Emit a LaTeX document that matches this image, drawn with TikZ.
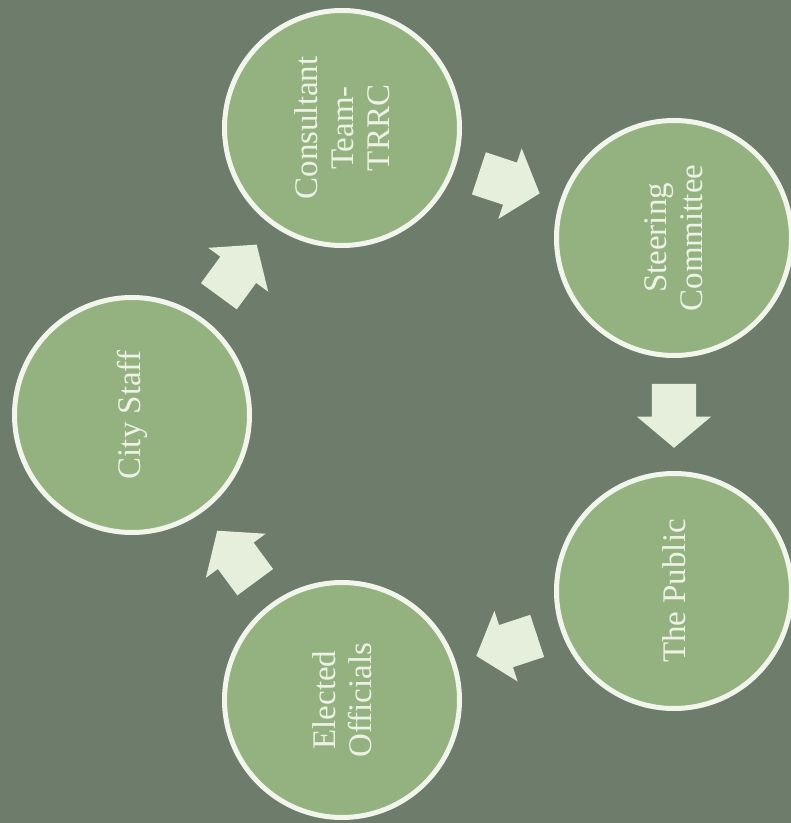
\documentclass[tikz,border=0pt]{standalone}
\usepackage{fontspec}
\setmainfont{Liberation Serif}
\usetikzlibrary{shapes.arrows,calc}
\definecolor{bgcol}{RGB}{110,124,108}
\definecolor{circfill}{RGB}{148,178,128}
\definecolor{circline}{RGB}{242,245,236}
\definecolor{arrowfill}{RGB}{230,238,220}
\definecolor{txtcol}{RGB}{238,242,230}
\tikzset{
  circ/.style={circle, draw=circline, line width=5pt, fill=circfill,
    minimum size=235pt, inner sep=0pt, align=center, rotate=90,
    text=txtcol, font=\fontsize{33}{36}\selectfont},
  arrowbox/.style={single arrow, fill=arrowfill, draw=none, inner xsep=0pt,
    inner ysep=22pt, single arrow head extend=15pt,
    single arrow tip angle=100, minimum height=64pt}
}
\begin{document}
\begin{tikzpicture}[x=1pt,y=1pt]
\fill[bgcol] (0,0) rectangle (791,823);
\useasboundingbox (0,0) rectangle (791,823);
\node[circ] (c1) at (342,695) {Consultant\\Team-\\TRRC};
\node[circ] (c2) at (674,585) {Steering\\Committee};
\node[circ] (c3) at (674,232) {The Public};
\node[circ] (c4) at (342,123) {Elected\\Officials};
\node[circ] (c5) at (132,408) {City Staff};
\node[arrowbox, rotate=-18.3] (a1) at ($($(c1)!0.5!(c2)$)!-8pt!(c2)$) {};
\node[arrowbox, rotate=-90] (a2) at ($($(c2)!0.5!(c3)$)!-8pt!(c3)$) {};
\node[arrowbox, rotate=198.2] (a3) at ($($(c3)!0.5!(c4)$)!-8pt!(c4)$) {};
\node[arrowbox, rotate=126.4] (a4) at ($($(c4)!0.5!(c5)$)!-8pt!(c5)$) {};
\node[arrowbox, rotate=53.8] (a5) at ($($(c5)!0.5!(c1)$)!-8pt!(c1)$) {};
\end{tikzpicture}
\end{document}
